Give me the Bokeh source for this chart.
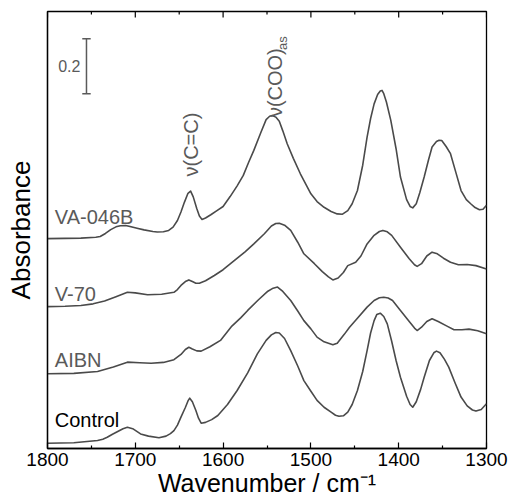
from bokeh.plotting import figure
from bokeh.models import Range1d, FixedTicker, ColumnDataSource
from bokeh.core.properties import value
from bokeh.embed import file_html
from bokeh.resources import INLINE
import math

# ---- data (wavenumber in cm^-1, offset absorbance) ----
wn_va046b = [1800, 1780, 1762, 1745, 1740, 1734, 1728, 1722, 1717, 1711, 1706, 1698, 1690, 1680, 1675, 1668,
             1662, 1657, 1652, 1648, 1644, 1640, 1637, 1634, 1630, 1627, 1624, 1620, 1614, 1607, 1600, 1592,
             1584, 1577, 1571, 1565, 1557, 1551, 1547, 1544, 1540, 1536, 1532, 1527, 1520, 1512, 1506, 1500,
             1493, 1485, 1477, 1470, 1464, 1458, 1453, 1447, 1441, 1436, 1432, 1428, 1424, 1421, 1419, 1417,
             1414, 1409, 1403, 1398, 1391, 1387, 1384, 1380, 1376, 1371, 1366, 1362, 1357, 1354, 1351, 1346,
             1341, 1335, 1329, 1323, 1318, 1313, 1308, 1304, 1300]
abs_va046b = [0.763, 0.764, 0.765, 0.768, 0.771, 0.782, 0.796, 0.806, 0.810, 0.811, 0.807, 0.801, 0.795, 0.789, 0.787, 0.788,
              0.793, 0.805, 0.829, 0.860, 0.896, 0.928, 0.936, 0.915, 0.873, 0.845, 0.833, 0.838, 0.850, 0.865, 0.880, 0.916,
              0.955, 0.993, 1.040, 1.084, 1.149, 1.196, 1.208, 1.211, 1.205, 1.190, 1.155, 1.108, 1.055, 0.999, 0.962, 0.926,
              0.898, 0.877, 0.862, 0.853, 0.852, 0.865, 0.890, 0.938, 1.030, 1.132, 1.200, 1.253, 1.287, 1.300, 1.302, 1.290,
              1.260, 1.193, 1.090, 0.987, 0.905, 0.880, 0.875, 0.890, 0.930, 0.987, 1.050, 1.096, 1.116, 1.121, 1.120, 1.098,
              1.072, 1.005, 0.938, 0.905, 0.890, 0.876, 0.868, 0.870, 0.884]

wn_v70 = [1800, 1780, 1762, 1748, 1735, 1722, 1709, 1700, 1686, 1670, 1656, 1652, 1648, 1643, 1639, 1635,
          1631, 1627, 1620, 1610, 1600, 1587, 1575, 1565, 1553, 1545, 1540, 1536, 1530, 1523, 1515, 1508,
          1496, 1487, 1480, 1475, 1469, 1463, 1458, 1449, 1443, 1436, 1428, 1422, 1418, 1413, 1408, 1398,
          1388, 1382, 1379, 1374, 1368, 1362, 1356, 1349, 1341, 1332, 1322, 1312, 1300]
abs_v70 = [0.516, 0.517, 0.520, 0.526, 0.536, 0.552, 0.568, 0.566, 0.559, 0.561, 0.568, 0.578, 0.593, 0.607, 0.613, 0.607,
           0.601, 0.601, 0.610, 0.629, 0.650, 0.684, 0.715, 0.744, 0.781, 0.809, 0.818, 0.819, 0.812, 0.793, 0.750, 0.708,
           0.672, 0.643, 0.624, 0.613, 0.620, 0.640, 0.665, 0.677, 0.700, 0.744, 0.775, 0.789, 0.793, 0.788, 0.775, 0.732,
           0.690, 0.668, 0.662, 0.672, 0.700, 0.714, 0.708, 0.692, 0.677, 0.668, 0.669, 0.665, 0.653]

wn_aibn = [1800, 1770, 1743, 1725, 1709, 1695, 1682, 1668, 1656, 1648, 1643, 1639, 1635, 1630, 1625, 1615,
           1603, 1590, 1580, 1572, 1560, 1549, 1543, 1538, 1532, 1523, 1515, 1508, 1500, 1493, 1485, 1475,
           1470, 1462, 1456, 1448, 1436, 1428, 1422, 1417, 1412, 1407, 1398, 1388, 1382, 1379, 1374, 1368,
           1362, 1355, 1345, 1337, 1328, 1320, 1310, 1300]
abs_aibn = [0.272, 0.273, 0.280, 0.296, 0.314, 0.312, 0.310, 0.313, 0.323, 0.342, 0.360, 0.368, 0.362, 0.355, 0.354, 0.370,
            0.393, 0.445, 0.475, 0.502, 0.540, 0.572, 0.583, 0.587, 0.571, 0.538, 0.500, 0.465, 0.435, 0.405, 0.388, 0.377,
            0.383, 0.415, 0.441, 0.470, 0.514, 0.538, 0.548, 0.550, 0.547, 0.538, 0.502, 0.462, 0.438, 0.429, 0.441, 0.462,
            0.472, 0.462, 0.445, 0.432, 0.432, 0.434, 0.428, 0.417]

wn_control = [1800, 1770, 1743, 1737, 1732, 1726, 1720, 1714, 1709, 1703, 1694, 1685, 1673, 1665, 1660, 1656,
              1652, 1648, 1643, 1640, 1638, 1635, 1631, 1628, 1625, 1620, 1613, 1606, 1595, 1584, 1572, 1561,
              1551, 1545, 1540, 1536, 1530, 1523, 1515, 1508, 1500, 1493, 1485, 1477, 1472, 1468, 1463, 1458,
              1453, 1447, 1441, 1436, 1432, 1428, 1425, 1421, 1417, 1413, 1408, 1403, 1398, 1391, 1387, 1384,
              1380, 1375, 1371, 1365, 1360, 1357, 1353, 1348, 1343, 1336, 1329, 1322, 1316, 1312, 1306, 1300]
abs_control = [0.019, 0.021, 0.029, 0.034, 0.041, 0.052, 0.062, 0.072, 0.077, 0.072, 0.053, 0.045, 0.039, 0.045, 0.054, 0.065,
               0.085, 0.114, 0.149, 0.173, 0.183, 0.170, 0.138, 0.110, 0.092, 0.095, 0.105, 0.120, 0.160, 0.211, 0.275, 0.344,
               0.393, 0.413, 0.422, 0.420, 0.400, 0.356, 0.300, 0.247, 0.208, 0.175, 0.150, 0.132, 0.121, 0.117, 0.119, 0.132,
               0.160, 0.211, 0.280, 0.356, 0.420, 0.465, 0.487, 0.492, 0.480, 0.453, 0.390, 0.320, 0.259, 0.190, 0.160, 0.150,
               0.170, 0.215, 0.259, 0.320, 0.348, 0.354, 0.348, 0.325, 0.296, 0.240, 0.187, 0.155, 0.140, 0.136, 0.142, 0.163]

sample_names = ["VA-046B", "V-70", "AIBN", "Control"]
sample_label_y = [0.841, 0.560, 0.320, 0.102]
sample_label_colors = ["#5a5a5a", "#5a5a5a", "#5a5a5a", "#000000"]

x_ticks = [1800, 1700, 1600, 1500, 1400, 1300]
x_minor_ticks = [1750, 1650, 1550, 1450, 1350]

FONT = "Liberation Sans"
LINE_COLOR = "#4a4a4a"
GRAY = "#5a5a5a"
Y_TOP = 1.589
PX = 1.0 / 275.0   # absorbance units per screen pixel

p = figure(width=511, height=501,
           x_range=Range1d(1800, 1300), y_range=Range1d(0, Y_TOP),
           output_backend="svg", toolbar_location=None,
           min_border_left=47, min_border_right=25, min_border_top=11, min_border_bottom=53,
           background_fill_color="white", border_fill_color="white")

p.xgrid.visible = False
p.ygrid.visible = False
p.outline_line_color = "black"
p.outline_line_width = 1.3
p.outline_line_alpha = 1.0

# bottom axis
xa = p.xaxis[0]
xa.ticker = FixedTicker(ticks=x_ticks, minor_ticks=x_minor_ticks)
xa.major_tick_in = 6
xa.major_tick_out = 0
xa.minor_tick_in = 3
xa.minor_tick_out = 0
xa.major_tick_line_color = "black"
xa.minor_tick_line_color = "black"
xa.major_tick_line_width = 1.2
xa.minor_tick_line_width = 1.2
xa.axis_line_color = "black"
xa.axis_line_width = 1.3
xa.major_label_text_font = FONT
xa.major_label_text_font_size = "19px"
xa.major_label_text_color = "black"
xa.major_label_standoff = 4
xa.axis_label = "Wavenumber / cm⁻¹"
xa.axis_label_text_font = FONT
xa.axis_label_text_font_size = "25px"
xa.axis_label_text_font_style = "normal"
xa.axis_label_text_color = "black"
xa.axis_label_standoff = 0

# top-edge inward ticks, drawn from the same tick positions
p.segment(x0=x_ticks, y0=[Y_TOP] * len(x_ticks), x1=x_ticks, y1=[Y_TOP - 6 * PX] * len(x_ticks),
          line_color="black", line_width=1.2)
p.segment(x0=x_minor_ticks, y0=[Y_TOP] * len(x_minor_ticks), x1=x_minor_ticks,
          y1=[Y_TOP - 3 * PX] * len(x_minor_ticks), line_color="black", line_width=1.2)

# left axis: label only
ya = p.yaxis[0]
ya.ticker = FixedTicker(ticks=[])
ya.major_tick_line_color = None
ya.minor_tick_line_color = None
ya.axis_line_color = "black"
ya.axis_line_width = 1.3
ya.axis_label = "Absorbance"
ya.axis_label_text_font = FONT
ya.axis_label_text_font_size = "26px"
ya.axis_label_text_font_style = "normal"
ya.axis_label_text_color = "black"
ya.axis_label_standoff = 12

# spectra
for wn, ab in [(wn_va046b, abs_va046b), (wn_v70, abs_v70), (wn_aibn, abs_aibn), (wn_control, abs_control)]:
    p.line(wn, ab, line_color=LINE_COLOR, line_width=1.6, line_join="round")

# sample labels
src = ColumnDataSource(dict(x=[1791.7] * 4, y=sample_label_y, t=sample_names, c=sample_label_colors))
p.text(x="x", y="y", text="t", text_color="c", source=src,
       text_font=value(FONT), text_font_size="20px",
       text_align="left", text_baseline="alphabetic")

# band annotations
p.text(x=[1637.0], y=[0.989], text=["ν(C=C)"], angle=math.pi / 2,
       text_font=value(FONT), text_font_size="20px", text_color=GRAY,
       text_align="left", text_baseline="middle")
p.text(x=[1540.5], y=[1.205], text=["ν(COO)"], angle=math.pi / 2,
       text_font=value(FONT), text_font_size="20px", text_color=GRAY,
       text_align="left", text_baseline="middle")
p.text(x=[1532.5], y=[1.449], text=["as"], angle=math.pi / 2,
       text_font=value(FONT), text_font_size="13px", text_color=GRAY,
       text_align="left", text_baseline="middle")

# scale bar (0.2 absorbance units)
bar_x = 1755.6
bar_y0 = 1.29
bar_len = 0.2
cap = 4.8
p.segment(x0=[bar_x, bar_x - cap, bar_x - cap], y0=[bar_y0, bar_y0, bar_y0 + bar_len],
          x1=[bar_x, bar_x + cap, bar_x + cap], y1=[bar_y0 + bar_len, bar_y0, bar_y0 + bar_len],
          line_color=GRAY, line_width=1.5)
p.text(x=[1762.5], y=[bar_y0 + bar_len / 2], text=["0.2"],
       text_font=value(FONT), text_font_size="16px", text_color=GRAY,
       text_align="right", text_baseline="middle")

open("out.html", "w").write(file_html(p, INLINE))
